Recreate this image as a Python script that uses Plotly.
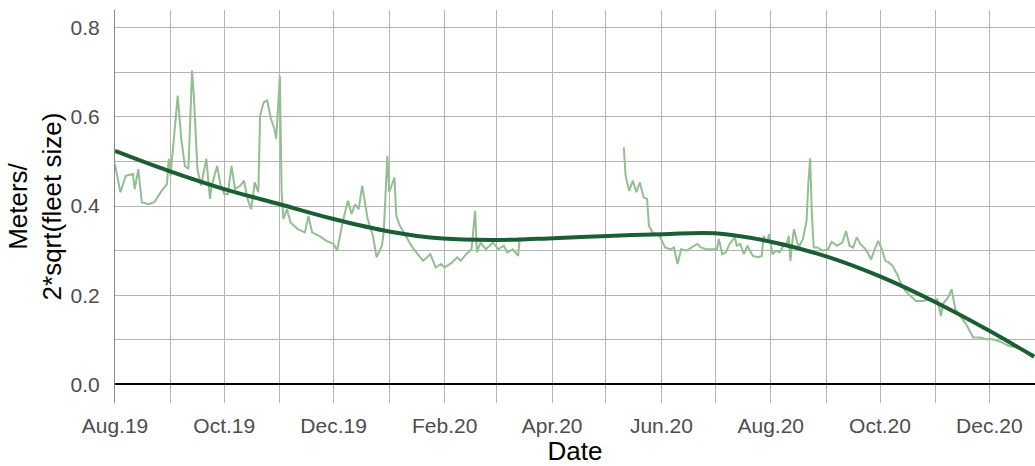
import pandas as pd
import plotly.graph_objects as go

BASE = pd.Timestamp("2019-08-01")

# Daily index (days since 2019-08-01) and values, first period
seg1_days = [0, 3, 6, 10, 11, 13, 15, 19, 22, 26, 29, 30, 31, 35, 37, 39, 41, 43, 44, 46, 48, 51, 53, 54,
             57, 59, 61, 63, 65, 67, 70, 72, 74, 76, 78, 80, 81, 83, 85, 87, 89, 90, 92, 93, 94, 96, 98,
             102, 106, 108, 110, 114, 118, 122, 124, 127, 130, 132, 134, 136, 138, 141, 144, 146, 149,
             150, 152, 153, 156, 157, 159, 163, 166, 169, 172, 176, 179, 182, 184, 188, 191, 193, 196,
             199, 201, 202, 204, 207, 211, 214, 217, 219, 222, 225, 226]
seg1_vals = [0.494, 0.431, 0.468, 0.472, 0.438, 0.483, 0.408, 0.404, 0.409, 0.434, 0.449, 0.506, 0.468,
             0.648, 0.551, 0.490, 0.483, 0.704, 0.648, 0.483, 0.446, 0.506, 0.416, 0.446, 0.490, 0.446,
             0.427, 0.427, 0.490, 0.438, 0.446, 0.457, 0.416, 0.393, 0.453, 0.431, 0.603, 0.633, 0.637,
             0.596, 0.573, 0.551, 0.693, 0.431, 0.371, 0.393, 0.363, 0.348, 0.341, 0.378, 0.341, 0.333,
             0.322, 0.315, 0.300, 0.363, 0.412, 0.382, 0.404, 0.393, 0.446, 0.371, 0.333, 0.285, 0.311,
             0.341, 0.513, 0.431, 0.464, 0.378, 0.356, 0.326, 0.307, 0.292, 0.277, 0.292, 0.262, 0.270,
             0.262, 0.273, 0.285, 0.277, 0.292, 0.303, 0.389, 0.296, 0.318, 0.303, 0.318, 0.303, 0.311,
             0.296, 0.303, 0.288, 0.330]

# Second period
seg2_days = [284, 285, 287, 289, 291, 293, 295, 297, 298, 300, 304, 307, 310, 312, 314, 316, 319, 322,
             325, 327, 330, 333, 336, 337, 339, 341, 343, 346, 347, 349, 351, 353, 356, 359, 361, 362,
             364, 365, 366, 367, 369, 371, 373, 375, 376, 377, 378, 379, 381, 382, 384, 386, 387, 388,
             389, 390, 392, 395, 398, 400, 403, 406, 408, 410, 412, 414, 416, 419, 420, 422, 424, 426,
             428, 430, 432, 434, 437, 438, 441, 444, 447, 451, 455, 457, 459, 461, 462, 465, 467, 469,
             472, 475, 479, 483, 486, 490, 495, 499, 504, 509, 513]
seg2_vals = [0.532, 0.468, 0.434, 0.457, 0.431, 0.453, 0.420, 0.416, 0.356, 0.341, 0.333, 0.307, 0.303,
             0.307, 0.270, 0.303, 0.300, 0.307, 0.315, 0.307, 0.303, 0.303, 0.303, 0.326, 0.292, 0.296,
             0.315, 0.330, 0.311, 0.315, 0.292, 0.311, 0.288, 0.285, 0.288, 0.333, 0.318, 0.337, 0.315,
             0.292, 0.300, 0.296, 0.311, 0.315, 0.333, 0.277, 0.318, 0.348, 0.315, 0.311, 0.326, 0.367,
             0.453, 0.507, 0.378, 0.307, 0.307, 0.300, 0.303, 0.320, 0.311, 0.318, 0.344, 0.311, 0.307,
             0.330, 0.315, 0.303, 0.296, 0.280, 0.303, 0.322, 0.303, 0.277, 0.273, 0.266, 0.243, 0.232,
             0.210, 0.198, 0.187, 0.187, 0.191, 0.187, 0.191, 0.153, 0.180, 0.195, 0.213, 0.169, 0.153,
             0.135, 0.105, 0.105, 0.101, 0.101, 0.094, 0.086, 0.082, 0.072, 0.065]

# Smoothed trend
trend_days = [0, 30, 61, 92, 122, 153, 183, 214, 245, 275, 306, 335, 366, 397, 427, 458, 488, 513]
trend_vals = [0.524, 0.479, 0.438, 0.404, 0.371, 0.343, 0.327, 0.324, 0.328, 0.333, 0.337, 0.339,
              0.320, 0.287, 0.242, 0.184, 0.120, 0.062]

x_tick_labels = ["Aug.19", "", "Oct.19", "", "Dec.19", "", "Feb.20", "", "Apr.20", "",
                 "Jun.20", "", "Aug.20", "", "Oct.20", "", "Dec.20"]
y_tick_vals = [0.0, 0.1, 0.2, 0.3, 0.4, 0.5, 0.6, 0.7, 0.8]
y_tick_labels = ["0.0", "", "0.2", "", "0.4", "", "0.6", "", "0.8"]


def to_dates(days):
    return [BASE + pd.Timedelta(days=d) for d in days]


x_tick_vals = [BASE + pd.DateOffset(months=i) for i in range(len(x_tick_labels))]

LIGHT = "#92bf92"
DARK = "#1b5e34"
GRID = "#b4b4b4"
FONT = "Liberation Sans, Arial, sans-serif"

fig = go.Figure()
fig.add_trace(go.Scatter(x=to_dates(seg1_days), y=seg1_vals, mode="lines",
                         line=dict(color=LIGHT, width=2), showlegend=False, hoverinfo="skip"))
fig.add_trace(go.Scatter(x=to_dates(seg2_days), y=seg2_vals, mode="lines",
                         line=dict(color=LIGHT, width=2), showlegend=False, hoverinfo="skip"))
fig.add_trace(go.Scatter(x=to_dates(trend_days), y=trend_vals, mode="lines",
                         line=dict(color=DARK, width=4, shape="spline", smoothing=1.0),
                         showlegend=False, hoverinfo="skip"))

fig.update_layout(
    width=1035, height=466, autosize=False,
    margin=dict(l=115, r=0, t=10, b=63),
    paper_bgcolor="white", plot_bgcolor="white",
    font=dict(family=FONT, color="#4d4d4d", size=21),
    xaxis=dict(
        range=[BASE, BASE + pd.Timedelta(days=513.5)],
        tickmode="array", tickvals=x_tick_vals, ticktext=x_tick_labels,
        showgrid=True, gridcolor=GRID, gridwidth=1,
        showline=False, zeroline=False, ticks="",
        ticklabelstandoff=8,
        tickfont=dict(size=21, color="#4d4d4d", family=FONT),
        title=dict(text="Date", font=dict(size=26, color="black", family=FONT), standoff=3),
    ),
    yaxis=dict(
        range=[-0.042, 0.84],
        tickmode="array", tickvals=y_tick_vals, ticktext=y_tick_labels,
        showgrid=True, gridcolor=GRID, gridwidth=1,
        showline=True, linecolor="#888888", linewidth=1,
        zeroline=True, zerolinecolor="black", zerolinewidth=2,
        ticks="", ticklabelstandoff=10,
        tickfont=dict(size=21, color="#4d4d4d", family=FONT),
        title=dict(text="Meters/<br>2*sqrt(fleet size)",
                   font=dict(size=26, color="black", family=FONT), standoff=1),
    ),
)

fig.write_html("out.html", config={"displayModeBar": False},
               post_script="document.body.style.margin='0';")
